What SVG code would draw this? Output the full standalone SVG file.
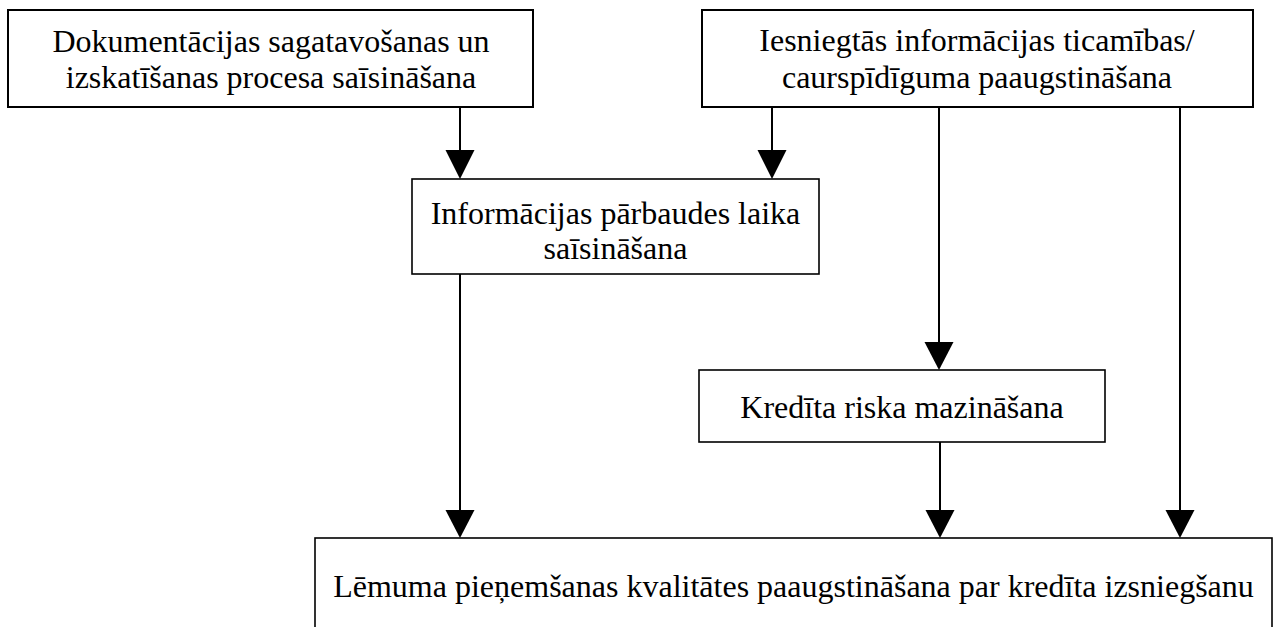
<svg xmlns="http://www.w3.org/2000/svg" width="1277" height="627" viewBox="0 0 1277 627">
  <style>
    .box { fill: #ffffff; stroke: #000000; stroke-width: 2; }
    .thin { stroke-width: 1.6; }
    .lbl { font-family: "Liberation Serif", "Times New Roman", serif; font-size: 32px; fill: #000000; text-anchor: middle; }
    .wire { stroke: #000000; stroke-width: 2; fill: none; }
    .head { fill: #000000; stroke: none; }
  </style>
  <rect width="1277" height="627" fill="#ffffff"/>

  <g id="node-dokumentacija">
    <rect class="box" x="8" y="10" width="525" height="97"/>
    <text class="lbl" x="271" y="52">Dokumentācijas sagatavošanas un</text>
    <text class="lbl" x="271" y="88">izskatīšanas procesa saīsināšana</text>
  </g>

  <g id="node-ticamiba">
    <rect class="box" x="702" y="10" width="551" height="97"/>
    <text class="lbl" x="977" y="51">Iesniegtās informācijas ticamības/</text>
    <text class="lbl" x="977" y="88">caurspīdīguma paaugstināšana</text>
  </g>

  <g id="node-parbaude">
    <rect class="box thin" x="412" y="179" width="407" height="95"/>
    <text class="lbl" x="615.5" y="224">Informācijas pārbaudes laika</text>
    <text class="lbl" x="615.5" y="259">saīsināšana</text>
  </g>

  <g id="node-risks">
    <rect class="box thin" x="699" y="370" width="406" height="72"/>
    <text class="lbl" x="902" y="418">Kredīta riska mazināšana</text>
  </g>

  <g id="node-lemums">
    <rect class="box thin" x="315" y="538" width="957" height="120"/>
    <text class="lbl" x="793.5" y="597">Lēmuma pieņemšanas kvalitātes paaugstināšana par kredīta izsniegšanu</text>
  </g>

  <g id="connectors">
    <line class="wire" x1="460" y1="107" x2="460" y2="152"/>
    <polygon class="head" points="445.5,150 474.5,150 460,179"/>

    <line class="wire" x1="772" y1="107" x2="772" y2="152"/>
    <polygon class="head" points="757.5,150 786.5,150 772,179"/>

    <line class="wire" x1="939" y1="107" x2="939" y2="344"/>
    <polygon class="head" points="924.5,342 953.5,342 939,370"/>

    <line class="wire" x1="460" y1="274" x2="460" y2="512"/>
    <polygon class="head" points="445.5,510 474.5,510 460,538"/>

    <line class="wire" x1="940" y1="442" x2="940" y2="512"/>
    <polygon class="head" points="925.5,510 954.5,510 940,538"/>

    <line class="wire" x1="1180" y1="107" x2="1180" y2="512"/>
    <polygon class="head" points="1165.5,510 1194.5,510 1180,538"/>
  </g>
</svg>
